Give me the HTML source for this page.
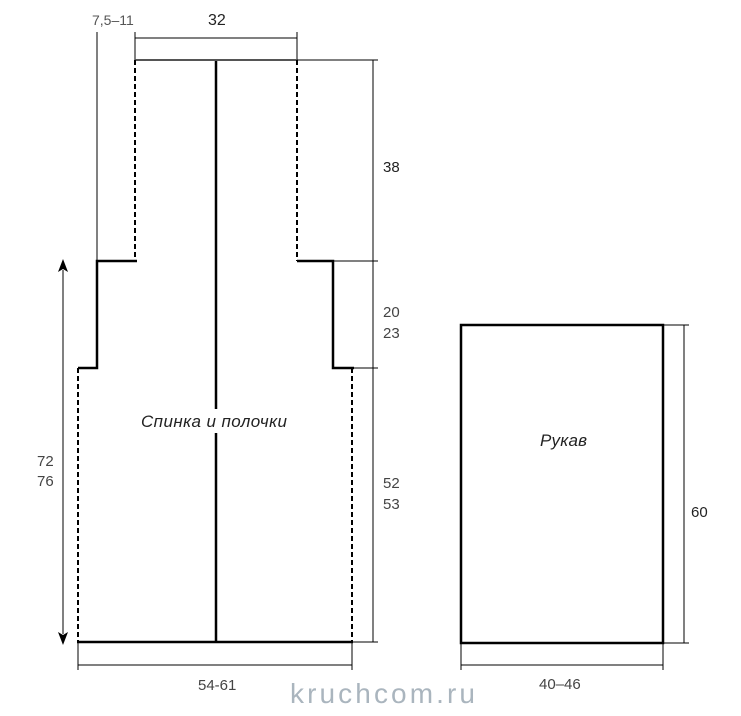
<!DOCTYPE html>
<html><head><meta charset="utf-8"><style>
html,body{margin:0;padding:0;background:#fff;}
svg{display:block;}
text{font-family:"Liberation Sans",sans-serif;}
</style></head><body>
<svg width="741" height="716" viewBox="0 0 741 716" xmlns="http://www.w3.org/2000/svg">
<g stroke="#000" fill="none">
<g stroke-width="1">
<line x1="97" y1="32" x2="97" y2="261"/>
<line x1="135" y1="32" x2="135" y2="60"/>
<line x1="297" y1="32" x2="297" y2="60"/>
<line x1="135" y1="38" x2="297" y2="38"/>
<line x1="297" y1="60" x2="378" y2="60"/>
<line x1="333" y1="261" x2="378" y2="261"/>
<line x1="352" y1="368" x2="378" y2="368"/>
<line x1="352" y1="642" x2="378" y2="642"/>
<line x1="373" y1="60" x2="373" y2="642"/>
<line x1="78" y1="642" x2="78" y2="670"/>
<line x1="352" y1="642" x2="352" y2="670"/>
<line x1="78" y1="665" x2="352" y2="665"/>
<line x1="63" y1="270" x2="63" y2="634"/>
<line x1="663" y1="325" x2="689" y2="325"/>
<line x1="663" y1="643" x2="689" y2="643"/>
<line x1="684" y1="325" x2="684" y2="643"/>
<line x1="461" y1="643" x2="461" y2="670"/>
<line x1="663" y1="643" x2="663" y2="670"/>
<line x1="461" y1="665" x2="663" y2="665"/>
</g>
<g stroke-width="2.5">
<polyline points="78,368 97,368 97,261 137,261"/>
<polyline points="297,261 333,261 333,368 354,368"/>
<line x1="77" y1="642" x2="353" y2="642"/>
<line x1="216" y1="60" x2="216" y2="642"/>
</g>
<line x1="135" y1="60" x2="297" y2="60" stroke="#555" stroke-width="2"/>
<g stroke-width="2" stroke-dasharray="5,3">
<line x1="135" y1="60" x2="135" y2="261"/>
<line x1="297" y1="60" x2="297" y2="261"/>
<line x1="78" y1="368" x2="78" y2="642"/>
<line x1="352" y1="368" x2="352" y2="642"/>
</g>
<rect x="461" y="325" width="202" height="318" stroke-width="2.5"/>
</g>
<rect x="139" y="409" width="150" height="24" fill="#fff"/>
<polygon points="63,259 58,272 63,269 68,272" fill="#000"/>
<polygon points="63,645 58,632 63,635 68,632" fill="#000"/>
<g font-size="15" fill="#222">
<text x="92" y="25" fill="#555" font-size="14">7,5–11</text>
<text x="208" y="25" font-size="16">32</text>
<text x="383" y="172">38</text>
<text x="383" y="317" fill="#444">20</text>
<text x="383" y="338" fill="#444">23</text>
<text x="383" y="488" fill="#444">52</text>
<text x="383" y="509" fill="#444">53</text>
<text x="37" y="466" fill="#444">72</text>
<text x="37" y="486" fill="#444">76</text>
<text x="198" y="690" fill="#444">54-61</text>
<text x="539" y="689" fill="#444">40–46</text>
<text x="691" y="517">60</text>
<text x="141" y="427" font-style="italic" font-size="17" textLength="146">Спинка и полочки</text>
<text x="540" y="446" font-style="italic" font-size="17" textLength="47">Рукав</text>
</g>
<text x="290" y="703" font-size="28" fill="#aab5be" textLength="185">kruchcom.ru</text>
</svg>
</body></html>
